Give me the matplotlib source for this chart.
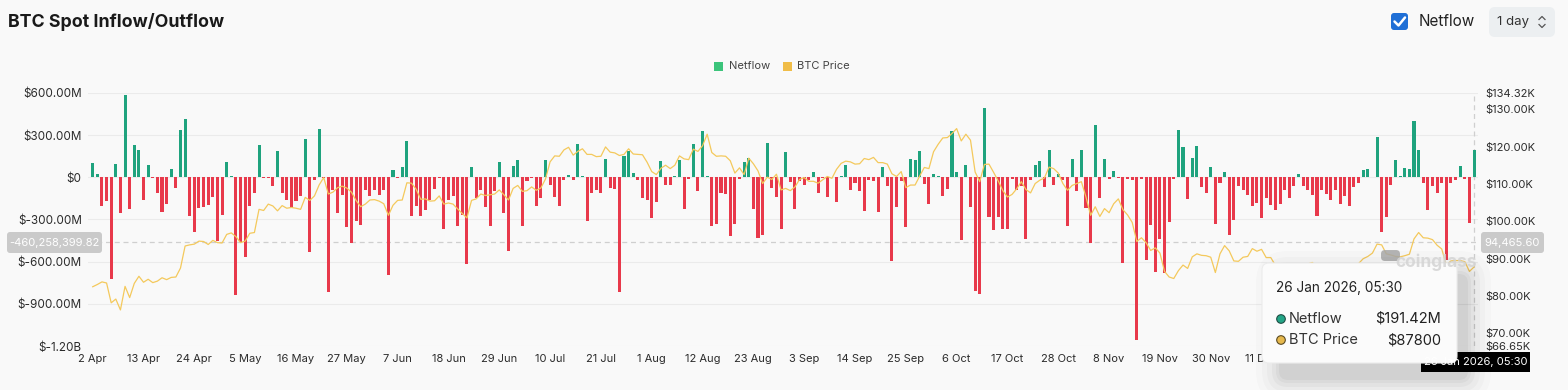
import matplotlib
matplotlib.use("Agg")
import matplotlib.pyplot as plt
from matplotlib.patches import FancyBboxPatch, Rectangle, Circle
from matplotlib.lines import Line2D
import numpy as np
import pandas as pd

plt.rcParams['font.family'] = ['Inter', 'DejaVu Sans']

# ---------------- data ----------------
start_date = "2025-04-02"

# daily spot netflow, millions USD (2 Apr 2025 .. 26 Jan 2026)
netflow_m = [
    105, 24, -207, -167, -724, 98, -255, 583, -224, 228,
    193, -160, 86, -3, -112, -248, -188, 60, -76, 340,
    416, -278, -390, -215, -210, -200, -140, -450, -267, 107,
    12, -838, -457, -564, -207, -112, 233, -5, -5, -60,
    186, -112, -160, -219, -171, -136, 276, -528, -17, 345,
    -5, -814, -88, -255, -128, -355, -470, -314, -338, -88,
    -136, -88, -124, -88, -695, 50, -5, 74, 257, -274,
    -207, -278, -231, -160, -83, -3, -369, -164, -136, -343,
    -267, -620, 74, -148, -88, -214, -343, -95, 112, -255,
    -521, 79, 124, -343, -29, -5, -202, -148, 124, -52,
    -140, -207, -21, 14, -21, 240, 10, -314, -112, -93,
    -112, 131, -76, -81, -814, 155, 190, 31, -17, -148,
    -164, -286, -179, 114, -52, -52, 7, 126, -226, -12,
    240, -100, 328, 12, -343, -331, -112, -117, -417, -331,
    -12, 112, 136, -224, -433, -409, 245, -76, -140, -367,
    179, -36, -226, -29, -57, -21, 36, -112, -5, -140,
    5, -179, 8, 90, -88, -40, -95, -243, -17, -24,
    -250, 71, -60, -593, -212, -29, -355, 133, 121, 190,
    -45, -190, 24, 10, -131, -83, 328, 38, -445, 86,
    -212, -807, -831, 490, -283, -374, -283, -367, -367, -10,
    -88, -64, -438, -17, 90, 117, -71, 193, -57, 24,
    -17, -345, 131, -95, 193, -219, -464, 371, -148, 133,
    -12, 48, -3, -607, -15, -20, -1160, -15, -590, -340,
    -670, -440, -680, -315, -15, 336, 217, -152, 136, 221,
    -69, -112, 74, -333, -40, 38, -409, -307, -64, -88,
    -124, -207, -183, -290, -148, -195, -231, -188, -88, -148,
    -64, 24, -64, -88, -124, -278, -88, -119, -160, -88,
    -188, -136, -207, -69, -40, 55, 60, 5, 288, -386,
    -283, -52, 121, 12, 67, 60, 400, 193, -40, -231,
    -64, -112, -40, -588, -40, -17, 83, -10, -326, 191.42,
]

# daily BTC price, thousands USD
btc_price_k = [
    82.5, 83.1, 83.8, 83.5, 78.2, 79.2, 76.3, 82.6, 79.6, 83.4, 85.3, 83.7, 84.5, 83.6, 84.0,
    84.9, 84.4, 85.0, 85.1, 87.5, 93.4, 93.7, 93.9, 94.7, 94.6, 93.8, 94.9, 94.3, 94.2,
    96.5, 96.9, 95.9, 94.3, 94.7, 96.8, 97.0, 103.2, 102.9, 104.6, 104.1, 102.8, 104.2, 103.5, 103.7,
    103.5, 103.2, 106.4, 105.6, 106.8, 109.7, 111.7, 107.3, 107.8, 109.0, 109.4, 108.9, 107.8, 105.6, 103.9, 104.6,
    105.7, 105.8, 105.4, 104.7, 101.6, 104.3, 105.6, 105.7, 110.3, 110.2, 108.6, 105.9, 106.0, 105.4, 105.5,
    106.8, 104.6, 104.9, 104.6, 103.3, 102.1, 100.9, 105.6, 106.0, 107.3, 106.9, 107.1, 107.3, 108.4, 107.1,
    105.7, 108.8, 109.6, 108.0, 108.2, 109.2, 108.3, 108.9, 111.3, 115.9, 117.5, 117.4, 119.1, 119.8, 117.7,
    118.7, 119.4, 117.9, 117.9, 117.3, 117.4, 119.9, 118.5, 118.3, 117.6, 117.9, 119.4, 118.0, 117.9, 117.8, 115.8,
    113.3, 112.5, 114.2, 115.0, 114.1, 115.0, 117.5, 116.7, 116.5, 119.3, 118.7, 120.2, 123.3, 118.4, 117.4,
    117.5, 117.4, 116.2, 112.9, 114.3, 112.5, 116.9, 115.4, 113.5, 110.1, 111.8, 111.2, 112.6, 108.4, 108.8, 108.2,
    109.2, 111.2, 111.7, 110.7, 110.7, 110.2, 111.1, 112.0, 111.5, 113.9, 115.5, 116.1, 115.9, 115.3, 115.4,
    116.8, 116.5, 117.1, 115.7, 115.7, 115.3, 112.7, 112.0, 113.3, 109.0, 109.7, 109.7, 112.1, 114.4, 114.1,
    118.6, 120.6, 122.3, 122.4, 123.5, 124.8, 121.5, 123.3, 121.7, 113.2, 110.6, 115.2, 115.3, 113.1, 110.8,
    108.2, 106.5, 107.2, 108.7, 110.6, 108.5, 107.6, 110.1, 111.0, 111.6, 114.5, 114.1, 112.9, 110.1, 108.3, 109.6,
    110.1, 110.6, 106.5, 101.6, 103.9, 101.3, 103.4, 102.3, 104.7, 106.0, 103.1, 101.7, 99.7, 94.6, 95.6,
    94.3, 92.2, 92.9, 91.5, 86.6, 85.1, 84.7, 86.8, 88.3, 87.4, 90.5, 91.3, 90.9, 90.8, 90.4,
    86.3, 91.3, 93.5, 92.1, 89.4, 89.3, 90.4, 90.6, 92.7, 92.0, 92.5, 90.3, 90.3, 88.2, 86.4,
    87.8, 86.2, 85.5, 88.1, 88.3, 88.6, 89.0, 87.6, 87.3, 87.6, 87.3, 87.8, 87.8, 87.2, 88.5, 87.5,
    88.7, 90.0, 90.6, 91.5, 93.9, 93.7, 91.3, 91.0, 90.6, 90.5, 90.8, 91.2, 95.3, 97.0, 95.6,
    95.5, 95.1, 93.6, 92.6, 88.3, 89.4, 89.5, 89.5, 89.2, 86.6, 87.8,
]

left_ticks_m = [600, 300, 0, -300, -600, -900, -1200]
left_tick_labels = ["$600.00M", "$300.00M", "$0", "$-300.00M", "$-600.00M", "$-900.00M", "$-1.20B"]
right_ticks_k = [134.32, 130, 120, 110, 100, 90, 80, 70, 66.65]
right_tick_labels = ["$134.32K", "$130.00K", "$120.00K", "$110.00K", "$100.00K",
                     "$90.00K", "$80.00K", "$70.00K", "$66.65K"]
x_tick_step = 11

crosshair_netflow = -460258399.82
crosshair_netflow_label = "-460,258,399.82"
crosshair_price_label = "94,465.60"
hover_time = "26 Jan 2026, 05:30"
hover_netflow = "$191.42M"
hover_price = "$87800"

# ---------------- style ----------------
W, H = 1568, 390
BG = "#f9f9f9"
GREEN = "#1fa37e"
RED = "#e8394b"
GOLD = "#f4c95c"
TXT = "#2b2b2b"

fig = plt.figure(figsize=(W / 100, H / 100), dpi=100, facecolor=BG)

ax_l, ax_r, ax_t, ax_b = 88, 1478, 93, 346
ax = fig.add_axes([ax_l / W, 1 - ax_b / H, (ax_r - ax_l) / W, (ax_b - ax_t) / H])
ax.set_facecolor(BG)

dates = pd.date_range(start_date, periods=len(netflow_m), freq="D")
x = np.arange(len(netflow_m))
vals = np.array(netflow_m) * 1e6
colors = [GREEN if v >= 0 else RED for v in vals]
ax.bar(x, vals, width=0.66, color=colors, linewidth=0, zorder=2)

ax.set_ylim(left_ticks_m[-1] * 1e6, left_ticks_m[0] * 1e6)
ax.set_xlim(-1.02, 299.85)
ax.set_yticks([v * 1e6 for v in left_ticks_m])
ax.set_yticklabels(left_tick_labels)
xt = x[::x_tick_step]
ax.set_xticks(xt)
ax.set_xticklabels([f"{d.day} {d.strftime('%b')}" for d in dates[::x_tick_step]])
ax.tick_params(axis="both", length=0, labelsize=8, colors=TXT)
ax.tick_params(axis="y", pad=4.5, labelsize=8.4)
ax.tick_params(axis="x", pad=5.5)
for s in ax.spines.values():
    s.set_visible(False)
ax.yaxis.grid(True, color="#ebebeb", linewidth=0.8)
ax.set_axisbelow(True)

# crosshair
ax.axhline(crosshair_netflow, color="#cfcfcf", lw=0.9, ls=(0, (4, 3)), zorder=1)
ax.axvline(x[-1], color="#cfcfcf", lw=0.9, ls=(0, (4, 3)), zorder=1)

ax2 = ax.twinx()
ax2.plot(x, np.array(btc_price_k) * 1000, color=GOLD, lw=0.9, zorder=3)
ax2.set_ylim(right_ticks_k[-1] * 1000, right_ticks_k[0] * 1000)
ax2.set_yticks([v * 1000 for v in right_ticks_k])
ax2.set_yticklabels(right_tick_labels)
ax2.tick_params(axis="y", length=0, labelsize=8, colors=TXT, pad=5)
for s in ax2.spines.values():
    s.set_visible(False)

# ---------------- overlay (pixel coords) ----------------
ov = fig.add_axes([0, 0, 1, 1], zorder=10)
ov.set_xlim(0, W)
ov.set_ylim(H, 0)
ov.axis("off")
ov.set_facecolor("none")

ov.text(8, 22, "BTC Spot Inflow/Outflow", fontsize=12.8, fontweight="bold",
        color="#1a1a1a", ha="left", va="center")

# checkbox + netflow
ov.add_patch(FancyBboxPatch((1391, 13), 17, 17, boxstyle="round,pad=0,rounding_size=3",
                            fc="#1f6fd6", ec="none"))
ov.add_line(Line2D([1394.5, 1398.5, 1405], [21.5, 25.5, 17.5], color="white", lw=1.8,
                   solid_capstyle="round", solid_joinstyle="round"))
ov.text(1419, 22, "Netflow", fontsize=11, color="#222222", ha="left", va="center")
ov.add_patch(FancyBboxPatch((1489, 7), 66, 30, boxstyle="round,pad=0,rounding_size=6",
                            fc="#eceff1", ec="none"))
ov.text(1497, 22, "1 day", fontsize=9.5, color="#333333", ha="left", va="center")
ov.add_line(Line2D([1539, 1542, 1545], [19.5, 16.5, 19.5], color="#555555", lw=0.9))
ov.add_line(Line2D([1539, 1542, 1545], [24.5, 27.5, 24.5], color="#555555", lw=0.9))

# legend
ov.add_patch(Rectangle((714, 61.5), 9, 9, fc="#3cc47b", ec="none"))
ov.text(729, 66, "Netflow", fontsize=8, color="#444444", ha="left", va="center")
ov.add_patch(Rectangle((783, 61.5), 9, 9, fc="#f0bd48", ec="none"))
ov.text(797, 66, "BTC Price", fontsize=8, color="#444444", ha="left", va="center")

# crosshair labels
ov.add_patch(FancyBboxPatch((7, 232), 95, 21, boxstyle="round,pad=0,rounding_size=3",
                            fc="#cacaca", ec="none"))
ov.text(54.5, 242.5, crosshair_netflow_label, fontsize=8, color="white", ha="center", va="center")
ov.add_patch(FancyBboxPatch((1481, 232), 63, 21, boxstyle="round,pad=0,rounding_size=3",
                            fc="#cacaca", ec="none"))
ov.text(1512.5, 242.5, crosshair_price_label, fontsize=8, color="white", ha="center", va="center")

# watermark
ov.add_patch(FancyBboxPatch((1381, 250), 19, 11, boxstyle="round,pad=0,rounding_size=4",
                            fc="#a9a9a9", ec="none", alpha=0.85))
ov.text(1477, 262, "coinglass", fontsize=12.5, color="#d4d4d4", ha="right", va="center",
        fontweight="bold", alpha=0.85)

# bottom hover date label
ov.add_patch(Rectangle((1421, 352), 109, 20, fc="black", ec="none"))
ov.text(1475.5, 362, hover_time, fontsize=8, color="white", ha="center", va="center")

# tooltip shadow (mostly to the right / below)
tx, ty, tw, th = 1262, 263, 195, 100
for g, a in [(26, 0.016), (20, 0.02), (15, 0.025), (10, 0.03), (6, 0.035), (3, 0.04)]:
    ov.add_patch(FancyBboxPatch((tx - g + 20, ty - g + 14), tw + 2 * g - 12, th + 2 * g,
                                boxstyle=f"round,pad=0,rounding_size={6 + g}",
                                fc="black", ec="none", alpha=a))
ov.add_patch(FancyBboxPatch((tx, ty), tw, th, boxstyle="round,pad=0,rounding_size=7",
                            fc="#fbfbfb", ec="#ececec", lw=0.8))
ov.text(1276, 288, hover_time, fontsize=9.8, color="#222222", ha="left", va="center")
ov.add_patch(Circle((1281, 319), 4.3, fc="#23a586", ec="#1e4d44", lw=0.8))
ov.text(1289, 319, "Netflow", fontsize=10.5, color="#333333", ha="left", va="center")
ov.text(1441, 319, hover_netflow, fontsize=10.5, color="#222222", ha="right", va="center")
ov.add_patch(Circle((1281, 340), 4.3, fc="#e6b84c", ec="#5a4a22", lw=0.8))
ov.text(1289, 340, "BTC Price", fontsize=10.5, color="#333333", ha="left", va="center")
ov.text(1441, 340, hover_price, fontsize=10.5, color="#222222", ha="right", va="center")

fig.savefig("out.png", dpi=100, facecolor=BG)
